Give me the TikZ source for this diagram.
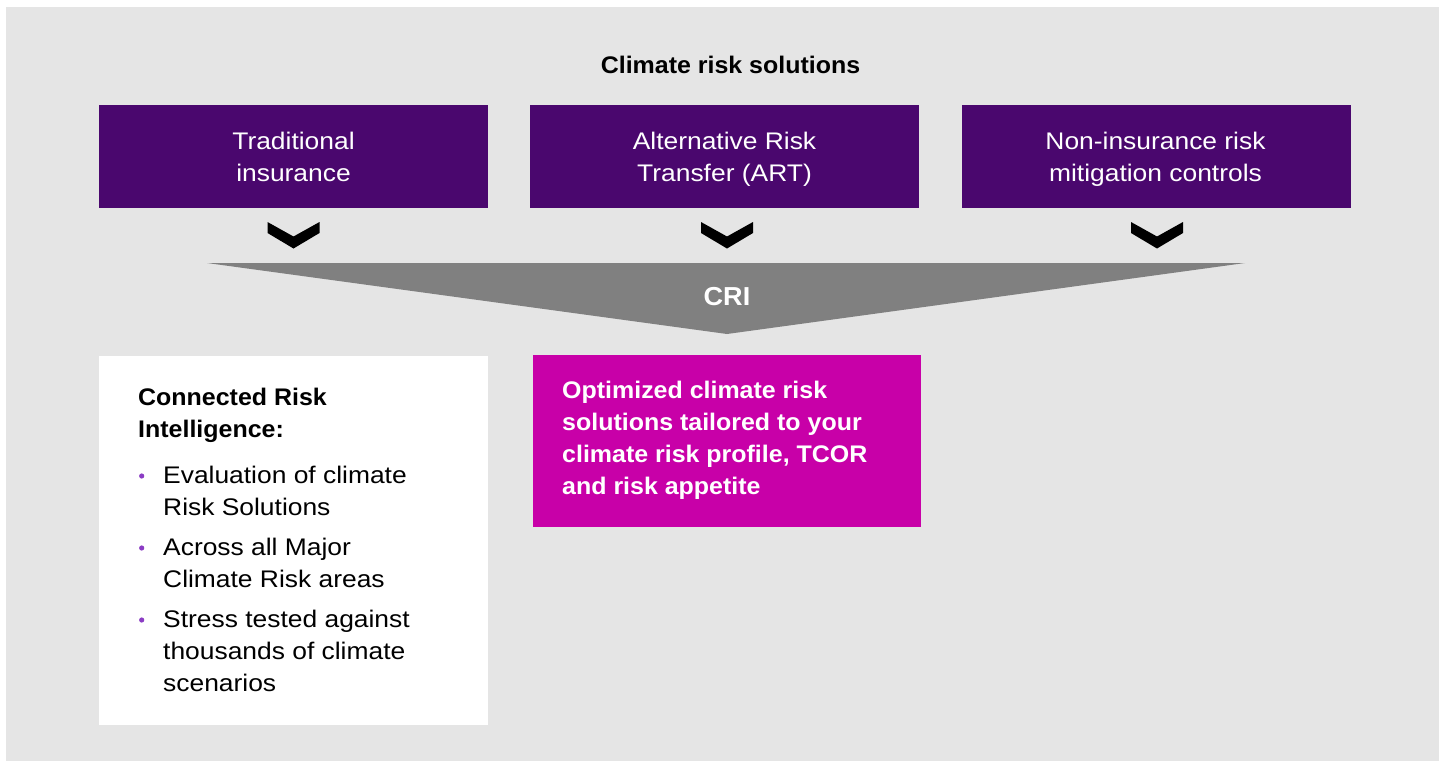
\documentclass[tikz,border=0pt]{standalone}
\usepackage{fontspec}
\setmainfont{Liberation Sans}[FakeStretch=1.1]
\newfontfamily\hbold{Liberation Sans Bold}[FakeStretch=1.04]
\definecolor{bgGray}{HTML}{E5E5E5}
\definecolor{deepPurple}{HTML}{4A076E}
\definecolor{magentaBox}{HTML}{C800A8}
\definecolor{funnelGray}{HTML}{808080}
\definecolor{dotPurple}{HTML}{8B3CC4}
\begin{document}
\begin{tikzpicture}[x=1pt,y=-1pt,
  rectbox/.style={inner sep=0, outer sep=0, draw=none},
  pbox/.style={rectbox, fill=deepPurple, minimum width=389pt, minimum height=103pt},
  wtxt/.style={inner sep=0, anchor=base, text=white, font=\fontsize{24}{32}\selectfont},
  btxt/.style={inner sep=0, anchor=base west, text=black, font=\fontsize{24}{32}\selectfont},
  bbtxt/.style={inner sep=0, anchor=base west, text=black, font=\hbold\fontsize{24}{32}\selectfont},
  mtxt/.style={inner sep=0, anchor=base west, text=white, font=\hbold\fontsize{24}{32}\selectfont},
  chev/.style={fill=black},
  bulletdot/.style={fill=dotPurple}
]
\useasboundingbox (0,0) rectangle (1439,761);
\fill[bgGray] (6,7) rectangle (1439,761);

% title
\node[inner sep=0, anchor=base, font=\hbold\fontsize{24}{32}\selectfont] (title) at (730.5,73) {Climate risk solutions};

% purple boxes
\node[pbox] (b1) at (293.5,156.5) {};
\node[pbox] (b2) at (724,156.5) {};
\node[pbox] (b3) at (1156.5,156.5) {};
\node[wtxt] (b1a) at (293.5,149) {Traditional};
\node[wtxt] (b1b) at (293.5,181) {insurance};
\node[wtxt] (b2a) at (724.5,149) {Alternative Risk};
\node[wtxt] (b2b) at (724.5,181) {Transfer (ART)};
\node[wtxt] (b3a) at (1155.5,149) {Non-insurance risk};
\node[wtxt] (b3b) at (1155.5,181) {mitigation controls};

% chevrons
\foreach \cx in {293.5,727,1157}{
  \fill[chev] (\cx-26,222) -- (\cx,236.5) -- (\cx+26,222) -- (\cx+26,233) -- (\cx,248.5) -- (\cx-26,233) -- cycle;
}

% funnel
\fill[funnelGray] (207,263) -- (1245,263) -- (727,334) -- cycle;
\node[inner sep=0, anchor=base, text=white, font=\hbold\fontsize{26}{32}\selectfont] (cri) at (727,305) {CRI};

% white box
\node[rectbox, fill=white, minimum width=389pt, minimum height=369pt] (wbox) at (293.5,540.5) {};
\node[bbtxt] (h1) at (138,405) {Connected Risk};
\node[bbtxt] (h2) at (138,437) {Intelligence:};
\fill[bulletdot] (141.7,476) circle (2.6);
\fill[bulletdot] (141.7,548) circle (2.6);
\fill[bulletdot] (141.7,620) circle (2.6);
\node[btxt] (l1) at (163,483) {Evaluation of climate};
\node[btxt] (l2) at (163,515) {Risk Solutions};
\node[btxt] (l3) at (163,555) {Across all Major};
\node[btxt] (l4) at (163,587) {Climate Risk areas};
\node[btxt] (l5) at (163,627) {Stress tested against};
\node[btxt] (l6) at (163,659) {thousands of climate};
\node[btxt] (l7) at (163,691) {scenarios};

% magenta box
\node[rectbox, fill=magentaBox, minimum width=388pt, minimum height=172pt] (mbox) at (727,441) {};
\node[mtxt] (m1) at (562,398) {Optimized climate risk};
\node[mtxt] (m2) at (562,430) {solutions tailored to your};
\node[mtxt] (m3) at (562,462) {climate risk profile, TCOR};
\node[mtxt] (m4) at (562,494) {and risk appetite};
\end{tikzpicture}
\end{document}
